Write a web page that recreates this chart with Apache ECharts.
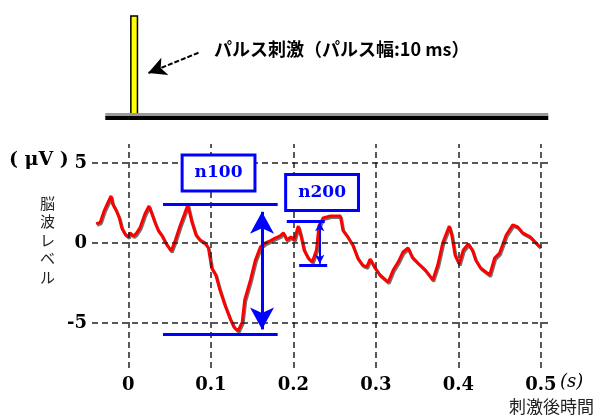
<!DOCTYPE html>
<html>
<head>
<meta charset="utf-8">
<script src="https://cdn.jsdelivr.net/npm/echarts@6/dist/echarts.min.js"></script>
<style>
html, body { margin: 0; background: #fff; }
#chart { width: 594px; height: 418px; }
</style>
</head>
<body>
<div id="chart"></div>
<script>
// time after stimulus (s) and EEG level (uV)
const timeS = [-0.039, -0.034, -0.029, -0.025, -0.021, -0.019, -0.015, -0.011, -0.008, -0.004,
  0.000, 0.002, 0.006, 0.009, 0.014, 0.020, 0.025, 0.029, 0.032, 0.036,
  0.041, 0.046, 0.052, 0.057, 0.063, 0.068, 0.072, 0.077, 0.082, 0.087,
  0.093, 0.097, 0.101, 0.106, 0.111, 0.117, 0.123, 0.128, 0.133, 0.138,
  0.141, 0.148, 0.154, 0.160, 0.166, 0.172, 0.178, 0.184, 0.188, 0.192,
  0.197, 0.201, 0.206, 0.209, 0.213, 0.218, 0.223, 0.228, 0.231, 0.236,
  0.245, 0.257, 0.260, 0.266, 0.272, 0.278, 0.284, 0.289, 0.293, 0.299,
  0.305, 0.315, 0.321, 0.327, 0.333, 0.339, 0.344, 0.351, 0.360, 0.369,
  0.375, 0.381, 0.389, 0.392, 0.396, 0.401, 0.406, 0.412, 0.417, 0.421,
  0.427, 0.438, 0.444, 0.450, 0.458, 0.466, 0.472, 0.478, 0.487, 0.499];
const eegUV = [1.19, 1.31, 2.06, 2.5, 2.94, 2.44, 2.06, 1.56, 0.94, 0.56,
  0.38, 0.63, 0.44, 0.56, 0.94, 1.81, 2.31, 1.75, 1.31, 0.81,
  0.44, -0.06, -0.5, 0.19, 1.13, 1.81, 2.38, 1.31, 0.5, 0.19,
  0.0, -0.31, -1.56, -2.0, -2.94, -3.88, -4.69, -5.25, -5.5, -4.94,
  -3.56, -2.31, -1.06, -0.25, 0.0, 0.13, 0.31, 0.44, 0.63, 0.19,
  0.38, 0.19, 1.06, 0.5, -0.44, -0.94, -1.19, -0.44, 1.06, 1.56,
  1.69, 1.69, 0.81, 0.38, -0.13, -0.94, -1.38, -1.5, -1.0, -1.56,
  -2.0, -2.44, -1.69, -1.19, -0.56, -0.31, -0.88, -1.25, -1.69, -2.31,
  -1.38, 0.0, 1.06, 0.5, -0.75, -1.31, -0.44, -0.06, -0.44, -1.06,
  -1.56, -2.0, -0.94, -0.63, 0.5, 1.13, 1.0, 0.63, 0.38, -0.25];

const xTicks = [0, 0.1, 0.2, 0.3, 0.4, 0.5];
const yTicks = [-5, 0, 5];

// pulse stimulus (top panel)
const pulseRange = [0.003, 0.011];
const stimLine = [-0.028, 0.509];

// n100 / n200 markers
const n100Levels = [2.44, -5.7];
const n100Span = [0.042, 0.181];
const n100ArrowX = 0.162;
const n100Arrow = [1.95, -5.4];
const n200Levels = [1.39, -1.375];
const n200TopSpan = [0.192, 0.238];
const n200BottomSpan = [0.207, 0.241];
const n200ArrowX = 0.232;
const n200Arrow = [1.3, -1.3];

const chart = echarts.init(document.getElementById('chart'));
const blue = '#0000ff';
const serif = 'DejaVu Serif';
const jp = 'Noto Sans CJK JP';

chart.setOption({
  animation: false,
  grid: [
    { left: 92, width: 458, top: 16, height: 102 },
    { left: 92, width: 458, top: 144, height: 224 }
  ],
  xAxis: [
    { gridIndex: 0, type: 'value', min: -0.0441, max: 0.5111, show: false },
    {
      gridIndex: 1, type: 'value', min: -0.0441, max: 0.5111,
      axisLine: { show: false }, axisTick: { show: false }, splitLine: { show: false },
      axisLabel: {
        customValues: xTicks, margin: 8,
        color: '#000', fontFamily: serif, fontWeight: 'bold', fontSize: 18
      }
    }
  ],
  yAxis: [
    { gridIndex: 0, type: 'value', min: 0, max: 1, show: false },
    {
      gridIndex: 1, type: 'value', min: -7.8125, max: 6.1875,
      axisLine: { show: false }, axisTick: { show: false }, splitLine: { show: false },
      axisLabel: {
        customValues: yTicks, margin: 5,
        color: '#000', fontFamily: serif, fontWeight: 'bold', fontSize: 18
      }
    }
  ],
  series: [
    {
      // stimulus baseline + pulse
      type: 'line', xAxisIndex: 0, yAxisIndex: 0,
      data: stimLine.map(x => [x, 0]),
      showSymbol: false, silent: true,
      lineStyle: { color: '#000', width: 4, shadowColor: '#9a9a9a', shadowOffsetY: -3 },
      markArea: {
        silent: true,
        itemStyle: { color: '#ffff00', borderColor: '#000', borderWidth: 1.5 },
        data: [[{ xAxis: pulseRange[0], yAxis: 0 }, { xAxis: pulseRange[1], yAxis: 1 }]]
      },
      markLine: {
        silent: true, symbol: ['none', 'arrow'], symbolSize: [14, 18],
        lineStyle: { color: '#000', width: 2, type: [5, 2] },
        label: { show: false },
        data: [[{ coord: [0.085, 0.64] }, { coord: [0.024, 0.44] }]]
      }
    },
    {
      // dashed grid
      type: 'line', xAxisIndex: 1, yAxisIndex: 1, data: [], z: 1,
      markLine: {
        silent: true, symbol: 'none', label: { show: false },
        lineStyle: { color: '#222', width: 1.5, type: [6, 4] },
        data: xTicks.map(v => ({ xAxis: v })).concat(yTicks.map(v => ({ yAxis: v })))
      }
    },
    {
      type: 'line', xAxisIndex: 1, yAxisIndex: 1, z: 3,
      data: timeS.map((t, i) => [t, eegUV[i]]),
      showSymbol: false, silent: true,
      lineStyle: {
        color: '#ff0000', width: 3,
        shadowColor: 'rgba(0,0,0,0.55)', shadowOffsetX: 1, shadowOffsetY: 1.5
      }
    },
    {
      // n100 / n200 annotations
      type: 'line', xAxisIndex: 1, yAxisIndex: 1, data: [], z: 5,
      markLine: {
        silent: true, symbol: 'none', label: { show: false },
        lineStyle: { color: blue, width: 3, type: 'solid' },
        data: [
          [{ coord: [n100Span[0], n100Levels[0]] }, { coord: [n100Span[1], n100Levels[0]] }],
          [{ coord: [n100Span[0], n100Levels[1]] }, { coord: [n100Span[1], n100Levels[1]] }],
          [{ coord: [n100ArrowX, n100Arrow[0]], symbol: 'arrow', symbolSize: [18, 22] },
           { coord: [n100ArrowX, n100Arrow[1]], symbol: 'arrow', symbolSize: [18, 22] }],
          [{ coord: [n200TopSpan[0], n200Levels[0]] }, { coord: [n200TopSpan[1], n200Levels[0]] }],
          [{ coord: [n200BottomSpan[0], n200Levels[1]] }, { coord: [n200BottomSpan[1], n200Levels[1]] }],
          [{ coord: [n200ArrowX, n200Arrow[0]], symbol: 'arrow', symbolSize: [7, 9], lineStyle: { width: 2 } },
           { coord: [n200ArrowX, n200Arrow[1]], symbol: 'arrow', symbolSize: [7, 9] }]
        ]
      },
      markPoint: {
        silent: true, symbol: 'rect', symbolSize: 0,
        label: {
          show: true, position: 'inside', color: blue,
          fontFamily: serif, fontWeight: 'bold', fontSize: 17,
          backgroundColor: '#fff', borderColor: blue, borderWidth: 3,
          padding: [8, 11]
        },
        data: [
          { coord: [0.1093, 4.375], value: 'n100', label: { formatter: 'n100' } },
          { coord: [0.2348, 3.16], value: 'n200', label: { formatter: 'n200' } }
        ]
      }
    }
  ],
  graphic: [
    { type: 'text', left: 214, top: 40, style: { text: 'パルス刺激（パルス幅:10 ms）', fontFamily: jp, fontWeight: 'bold', fontSize: 18, fill: '#000' } },
    { type: 'text', left: 9, top: 151, style: { text: '( μV )', fontFamily: serif, fontWeight: 'bold', fontSize: 19, fill: '#000' } },
    { type: 'text', left: 40, top: 194, style: { text: '脳\n波\nレ\nベ\nル', fontFamily: jp, fontSize: 15, lineHeight: 18.5, fill: '#222' } },
    { type: 'text', left: 560, top: 373, style: { text: '(s)', fontFamily: serif, fontStyle: 'italic', fontSize: 18, fill: '#000' } },
    { type: 'text', left: 509, top: 398, style: { text: '刺激後時間', fontFamily: jp, fontSize: 17, fill: '#222' } }
  ]
});
</script>
</body>
</html>
